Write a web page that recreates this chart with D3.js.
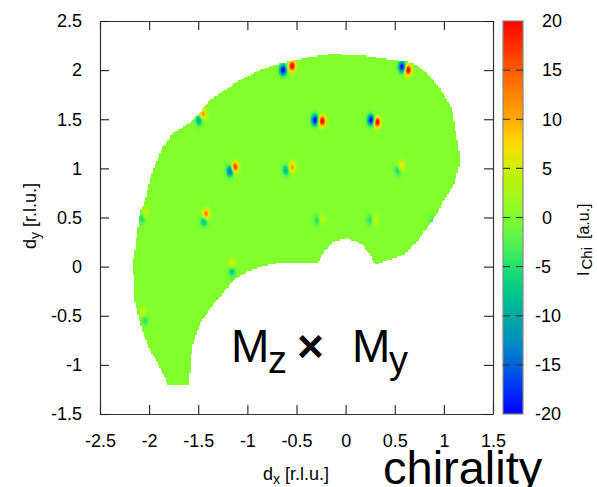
<!DOCTYPE html>
<html>
<head>
<meta charset="utf-8">
<script src="https://cdn.jsdelivr.net/npm/d3@7"></script>
<style>
  body { margin: 0; background: #fff; }
  svg { display: block; }
  text { font-family: "Liberation Sans", Arial, Helvetica, sans-serif; fill: #000; }
</style>
</head>
<body>
<svg id="chart" width="597" height="487"></svg>
<script>
// Outline of the measured area in reciprocal space (r.l.u.)
const regionX = [-1.502,-1.380,-1.227,-1.074,-0.871,-0.687,-0.362,-0.158,0.148,0.484,0.687,0.789,0.891,0.993,1.085,1.135,1.166,1.115,1.003,0.891,0.738,0.586,0.423,0.300,0.249,0.168,0.015,-0.127,-0.209,-0.280,-0.463,-0.636,-0.799,-0.973,-1.146,-1.278,-1.380,-1.482,-1.563,-1.594,-1.808,-1.889,-1.991,-2.062,-2.123,-2.154,-2.164,-2.144,-2.123,-2.093,-2.042,-1.970,-1.920,-1.858,-1.757,-1.655,-1.583];
const regionY = [1.543,1.696,1.797,1.899,2.001,2.062,2.133,2.164,2.154,2.103,2.072,2.001,1.899,1.767,1.594,1.288,1.085,0.860,0.677,0.474,0.270,0.117,0.066,0.015,0.117,0.229,0.290,0.250,0.168,0.046,0.046,0.046,0.015,-0.036,-0.138,-0.311,-0.423,-0.575,-0.820,-1.207,-1.207,-1.023,-0.850,-0.677,-0.443,-0.311,0.066,0.168,0.341,0.545,0.677,0.952,1.085,1.217,1.359,1.421,1.461];

// Lobes of the chiral intensity I_Chi: centre (r.l.u.) and peak value (a.u.)
const lobeX = [-0.636,-0.545, 0.575, 0.636,-0.311,-0.239, 0.260, 0.321,-1.451,-1.492,-1.125,-1.176,-0.545,-0.606,-1.421,-1.441,-1.156,-1.156,-2.042,-2.072, 0.565, 0.535,-0.290,-0.239, 0.249, 0.300, 0.881,-2.062,-2.042];
const lobeY = [ 2.001, 2.042, 2.032, 2.001, 1.492, 1.482, 1.492, 1.471, 1.553, 1.492, 1.013, 0.973, 1.013, 0.983, 0.535, 0.463, 0.025,-0.046, 0.545, 0.494, 1.023, 0.983, 0.474, 0.484, 0.474, 0.474, 0.474,-0.463,-0.545];
const lobeI = [  -22,   22,  -22,   22,  -22,   22,  -22,   22,   12,  -10,   18,  -16,   11,   -9,   14,   -9,    7,   -8,    5,   -6,    9,   -7,   -5,    4,   -5,    4,   -3,    5,   -5];

const xTicks = [-2.5, -2, -1.5, -1, -0.5, 0, 0.5, 1, 1.5];
const yTicks = [-1.5, -1, -0.5, 0, 0.5, 1, 1.5, 2, 2.5];
const cbTicks = [-20, -15, -10, -5, 0, 5, 10, 15, 20];

// Colour palette for I_Chi
const paletteValues = [-20, -17.5, -15, -12.5, -10, -7.5, -5, -2.5, 0, 2.5, 5, 7.5, 10, 12.5, 15, 17.5, 20];
const paletteColors = ["#0000ff","#0030f8","#0064dc","#0090c0","#00aaa0","#00c88a","#22e070","#56f350","#80ff2c","#a8f81a","#ccf000","#ffdc00","#ffaa00","#ff8400","#ff5a00","#ff3000","#ff0000"];

const svg = d3.select("#chart");
const x = d3.scaleLinear().domain([-2.5, 1.5]).range([100, 493]);
const y = d3.scaleLinear().domain([-1.5, 2.5]).range([414, 21]);
const cb = d3.scaleLinear().domain([-20, 20]).range([414, 21]);
const color = d3.scaleLinear().domain(paletteValues).range(paletteColors).clamp(true);

// ---- intensity map, rasterised on a regular grid ----
const W = 393, H = 393;
const canvas = document.createElement("canvas");
canvas.width = W; canvas.height = H;
const ctx = canvas.getContext("2d");
const img = ctx.createImageData(W, H);
const poly = regionX.map((v, i) => [v, regionY[i]]);
const lut = d3.range(0, 401).map(k => d3.rgb(color(-20 + k * 0.1)));
const step = 0.016;           // grid spacing of the map
const sx = 0.025, sy = 0.038; // lobe widths
for (let j = 0; j < H; j++) {
  for (let i = 0; i < W; i++) {
    const qx = Math.round(x.invert(100 + i + 0.5) / step) * step;
    const qy = Math.round(y.invert(21 + j + 0.5) / step) * step;
    if (!d3.polygonContains(poly, [qx, qy])) continue;
    const px = x.invert(100 + i + 0.5), py = y.invert(21 + j + 0.5);
    let v = 0;
    for (let k = 0; k < lobeX.length; k++) {
      const ddx = px - lobeX[k], ddy = py - lobeY[k];
      v += lobeI[k] * Math.exp(-(ddx * ddx / (2 * sx * sx) + ddy * ddy / (2 * sy * sy)));
    }
    const idx = Math.max(0, Math.min(400, Math.round((v + 20) * 10)));
    const c = lut[idx];
    const p = (j * W + i) * 4;
    img.data[p] = c.r; img.data[p + 1] = c.g; img.data[p + 2] = c.b; img.data[p + 3] = 255;
  }
}
ctx.putImageData(img, 0, 0);
svg.append("image")
  .attr("x", 100).attr("y", 21).attr("width", W).attr("height", H)
  .attr("preserveAspectRatio", "none")
  .attr("href", canvas.toDataURL());

// ---- axes (ticks mirrored, pointing inwards) ----
const fmt = d => String(d);
const styleAxis = g => {
  g.select(".domain").attr("stroke", "#333").attr("stroke-width", 1.2);
  g.selectAll(".tick line").attr("stroke", "#222").attr("stroke-width", 1.1);
  g.selectAll(".tick text").attr("font-size", 18).attr("fill", "#000")
    .attr("font-family", '"Liberation Sans", Arial, sans-serif');
};
svg.append("g").attr("transform", "translate(0,414)")
  .call(d3.axisBottom(x).tickValues(xTicks).tickFormat(fmt).tickSizeInner(-9).tickSizeOuter(0).tickPadding(20))
  .call(styleAxis);
svg.append("g").attr("transform", "translate(0,21)")
  .call(d3.axisTop(x).tickValues(xTicks).tickFormat("").tickSizeInner(-9).tickSizeOuter(0))
  .call(styleAxis);
svg.append("g").attr("transform", "translate(100,0)")
  .call(d3.axisLeft(y).tickValues(yTicks).tickFormat(fmt).tickSizeInner(-9).tickSizeOuter(0).tickPadding(18))
  .call(styleAxis);
svg.append("g").attr("transform", "translate(493,0)")
  .call(d3.axisRight(y).tickValues(yTicks).tickFormat("").tickSizeInner(-9).tickSizeOuter(0))
  .call(styleAxis);

// axis titles
const xl = svg.append("text").attr("x", 296).attr("y", 480).attr("text-anchor", "middle").attr("font-size", 18);
xl.append("tspan").text("d");
xl.append("tspan").attr("font-size", 14).attr("dy", 4).text("x");
xl.append("tspan").attr("dy", -4).text(" [r.l.u.]");

const yl = svg.append("text").attr("transform", "translate(36,216) rotate(-90)").attr("text-anchor", "middle").attr("font-size", 18);
yl.append("tspan").text("d");
yl.append("tspan").attr("font-size", 14).attr("dy", 4).text("y");
yl.append("tspan").attr("dy", -4).text(" [r.l.u.]");

// ---- colour box ----
const grad = svg.append("defs").append("linearGradient").attr("id", "cbgrad")
  .attr("x1", 0).attr("y1", 1).attr("x2", 0).attr("y2", 0);
d3.range(0, 41).forEach(k => {
  const v = -20 + k;
  grad.append("stop").attr("offset", (v + 20) / 40).attr("stop-color", color(v));
});
svg.append("rect").attr("x", 503).attr("y", cb(20)).attr("width", 20).attr("height", cb(-20) - cb(20))
  .attr("fill", "url(#cbgrad)").attr("stroke", "#888").attr("stroke-width", 1.2);
const cbInner = cbTicks.filter(v => Math.abs(v) < 20);
svg.append("g").selectAll("line.l").data(cbInner).join("line")
  .attr("x1", 503).attr("x2", 510).attr("y1", d => cb(d)).attr("y2", d => cb(d))
  .attr("stroke", "#333").attr("stroke-width", 1.1);
svg.append("g").selectAll("line.r").data(cbInner).join("line")
  .attr("x1", 516).attr("x2", 523).attr("y1", d => cb(d)).attr("y2", d => cb(d))
  .attr("stroke", "#333").attr("stroke-width", 1.1);
svg.append("g").selectAll("text").data(cbTicks).join("text")
  .attr("x", d => d < 0 ? 535 : 542).attr("y", d => cb(d)).attr("dy", "0.35em")
  .attr("font-size", 18).text(d => String(d));

const cl = svg.append("text").attr("transform", "translate(589,276) rotate(-90)").attr("font-size", 16);
cl.append("tspan").text("I");
cl.append("tspan").attr("font-size", 15).attr("dy", 3).attr("dx", 2).text("Chi");
cl.append("tspan").attr("dy", -3).attr("dx", 8).text("[a.u.]");

// ---- annotations ----
const m = svg.append("text").attr("y", 362).attr("font-size", 46);
m.append("tspan").attr("x", 231).text("M");
m.append("tspan").attr("x", 268).attr("dy", 11).attr("font-size", 38).text("z");
m.append("tspan").attr("x", 297).attr("dy", -11).attr("font-weight", "bold").text("×");
m.append("tspan").attr("x", 352).text("M");
m.append("tspan").attr("x", 389).attr("dy", 11).attr("font-size", 38).text("y");

svg.append("text").attr("x", 383).attr("y", 484).attr("font-size", 47).text("chirality");
</script>
</body>
</html>
